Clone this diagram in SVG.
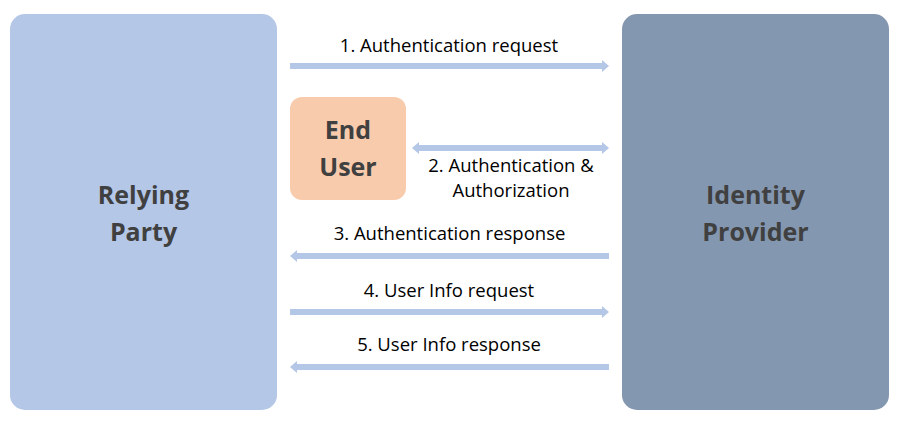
<svg xmlns="http://www.w3.org/2000/svg" width="899" height="423" viewBox="0 0 899 423">
<style>
.big{font-family:"Open Sans","Liberation Sans",sans-serif;font-weight:bold;fill:#404040;text-anchor:middle}
.lbl{font-family:"Open Sans","Liberation Sans",sans-serif;font-size:18.5px;fill:#000;text-anchor:middle}
.arr{fill:#B4C7E7}
</style>
<rect width="899" height="423" fill="#fff"/>
<g id="relying-party">
<rect x="10" y="14" width="267" height="396" rx="15" fill="#B4C7E7"/>
<text class="big" font-size="25" x="143.5" y="204">Relying</text>
<text class="big" font-size="25" x="143.5" y="241">Party</text>
</g>
<g id="identity-provider">
<rect x="622" y="14" width="267" height="396" rx="15" fill="#8497B0"/>
<text class="big" font-size="25" x="755.5" y="204">Identity</text>
<text class="big" font-size="25" x="755.5" y="241">Provider</text>
</g>
<g id="end-user">
<rect x="290" y="97" width="116" height="103" rx="12" fill="#F8CBAD"/>
<text class="big" font-size="25" x="348" y="139">End</text>
<text class="big" font-size="25" x="348" y="176">User</text>
</g>
<g id="connectors">
<polygon class="arr" points="290,63 602,63 602,60 609,66 602,72 602,69 290,69"/>
<polygon class="arr" points="412,148 419,142 419,145 602,145 602,142 609,148 602,154 602,151 419,151 419,154"/>
<polygon class="arr" points="609,253 297,253 297,250 290,256 297,262 297,259 609,259"/>
<polygon class="arr" points="290,309 602,309 602,306 609,312 602,318 602,315 290,315"/>
<polygon class="arr" points="609,364 297,364 297,361 290,367 297,373 297,370 609,370"/>
</g>
<g id="labels">
<text class="lbl" x="449" y="52">1. Authentication request</text>
<text class="lbl" x="511" y="172">2. Authentication &amp;</text>
<text class="lbl" x="511" y="197">Authorization</text>
<text class="lbl" x="449.5" y="240">3. Authentication response</text>
<text class="lbl" x="449" y="297">4. User Info request</text>
<text class="lbl" x="449" y="351">5. User Info response</text>
</g>
</svg>
